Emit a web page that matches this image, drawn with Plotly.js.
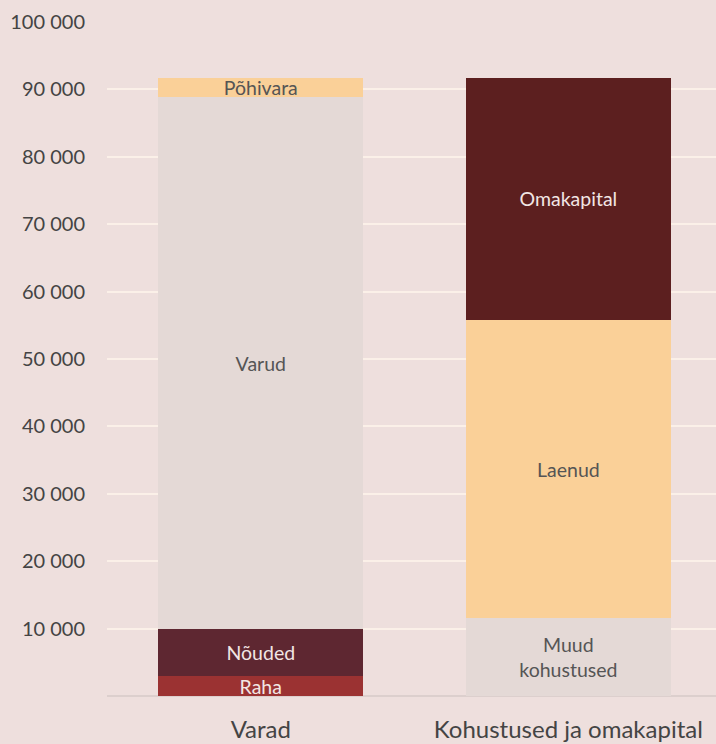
<!DOCTYPE html>
<html><head><meta charset="utf-8">
<script src="https://cdn.plot.ly/plotly-3.0.1.min.js"></script>
<style>html,body{margin:0;padding:0;background:#EEDFDD;}#chart{width:716px;height:744px;}</style>
</head><body><div id="chart"></div>
<script>
const categories = ["Varad", "Kohustused ja omakapital"];
// segments bottom to top
const segNames = ["Raha", "Nõuded", "Varud", "Põhivara", "Muud<br>kohustused", "Laenud", "Omakapital"];
const segCategory = [0, 0, 0, 0, 1, 1, 1];
const segValues = [2900, 7000, 78900, 2900, 11500, 44300, 35900];
const segColors = ["#9B3232", "#5E2731", "#E4D9D6", "#FAD098", "#E4D9D6", "#FAD098", "#5C1F1F"];
const segTextColors = ["#F2E6E4", "#F2E6E4", "#555555", "#555555", "#555555", "#555555", "#F2E6E4"];
const yTicks = [10000, 20000, 30000, 40000, 50000, 60000, 70000, 80000, 90000, 100000];
const yTickText = ["10 000", "20 000", "30 000", "40 000", "50 000", "60 000", "70 000", "80 000", "90 000", "100 000"];

const traces = segNames.map((n, i) => ({
  type: "bar",
  name: n,
  x: [categories[segCategory[i]]],
  y: [segValues[i]],
  text: [n],
  textposition: "inside",
  insidetextanchor: "middle",
  constraintext: "none",
  textangle: 0,
  textfont: {family: "Lato, sans-serif", size: 19.5, color: segTextColors[i]},
  marker: {color: segColors[i], line: {width: 0}},
  width: 0.667,
  hoverinfo: "skip"
}));

const layout = {
  width: 716, height: 744,
  paper_bgcolor: "#EEDFDD", plot_bgcolor: "#EEDFDD",
  barmode: "stack",
  showlegend: false,
  margin: {l: 107, r: 0, t: 22, b: 47.5},
  font: {family: "Lato, sans-serif", color: "#444444"},
  xaxis: {
    type: "category", range: [-0.5, 1.48], showgrid: false, zeroline: false,
    showline: false, ticks: "", tickfont: {size: 24, color: "#444444"}, ticklabelstandoff: 17
  },
  yaxis: {
    range: [0, 100000], tickvals: yTicks, ticktext: yTickText,
    showgrid: true, gridcolor: "#FBF0E8", gridwidth: 2,
    zeroline: true, zerolinecolor: "#DCCFCD", zerolinewidth: 2,
    ticks: "", tickfont: {size: 20, color: "#444444"}, ticklabelstandoff: 21,
    fixedrange: true
  }
};
Plotly.newPlot("chart", traces, layout, {displayModeBar: false, staticPlot: true});
</script></body></html>
